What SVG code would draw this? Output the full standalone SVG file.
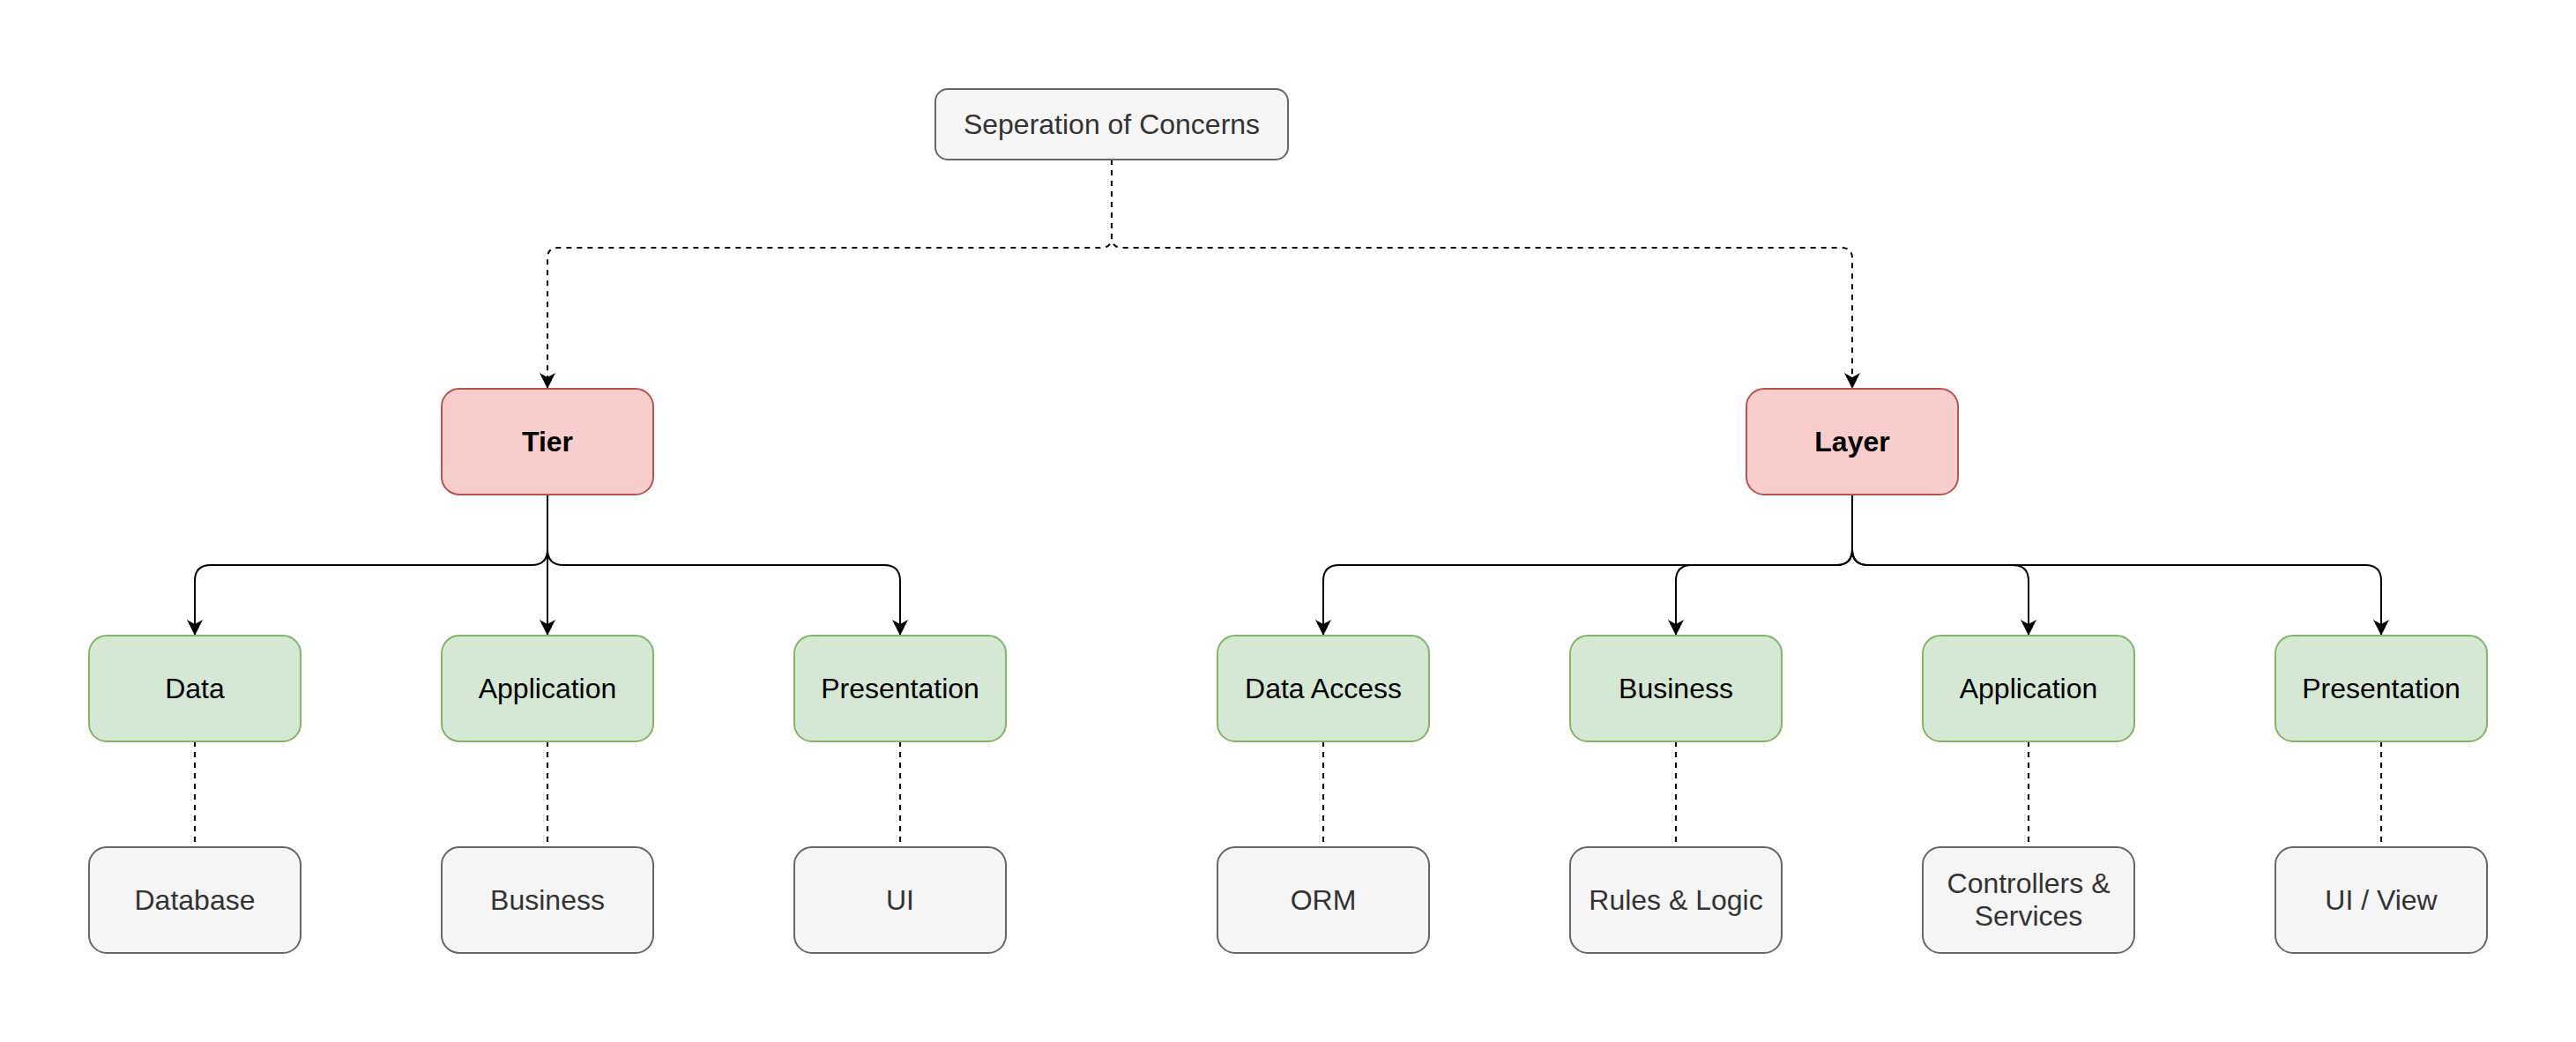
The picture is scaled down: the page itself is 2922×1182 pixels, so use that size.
<svg xmlns="http://www.w3.org/2000/svg" width="2922" height="1182" viewBox="0 0 2922 1182">
<style>
.box{stroke-width:2}
.gray{fill:#f5f5f5;stroke:#666666}
.green{fill:#d5e8d4;stroke:#82b366}
.red{fill:#f8cecc;stroke:#b85450}
text{font-family:"Liberation Sans",Arial,Helvetica,sans-serif;font-size:32px;text-anchor:middle}
.tg{fill:#333333}
.tb{fill:#000000}
.bold{font-weight:bold}
.edge{fill:none;stroke:#000000;stroke-width:2}
.dash{stroke-dasharray:6 6}
</style>
<defs>
<marker id="arrow" viewBox="0 0 18 18" refX="17" refY="9" markerWidth="18" markerHeight="18" markerUnits="userSpaceOnUse" orient="auto">
<path d="M0,0 L18,9 L0,18 L5,9 Z" fill="#000000"/>
</marker>
</defs>
<rect width="2922" height="1182" fill="#ffffff"/>
<g id="connectors">
<path class="edge dash" d="M1261,181 V269 Q1261,281 1249,281 H633 Q621,281 621,293 V440" marker-end="url(#arrow)"/>
<path class="edge dash" d="M1261,181 V269 Q1261,281 1273,281 H2089 Q2101,281 2101,293 V440" marker-end="url(#arrow)"/>
<path class="edge" d="M621,561 V623 Q621,641 603,641 H239 Q221,641 221,659 V720" marker-end="url(#arrow)"/>
<path class="edge" d="M621,561 V720" marker-end="url(#arrow)"/>
<path class="edge" d="M621,561 V623 Q621,641 639,641 H1003 Q1021,641 1021,659 V720" marker-end="url(#arrow)"/>
<path class="edge" d="M2101,561 V623 Q2101,641 2083,641 H1519 Q1501,641 1501,659 V720" marker-end="url(#arrow)"/>
<path class="edge" d="M2101,561 V623 Q2101,641 2083,641 H1919 Q1901,641 1901,659 V720" marker-end="url(#arrow)"/>
<path class="edge" d="M2101,561 V623 Q2101,641 2119,641 H2283 Q2301,641 2301,659 V720" marker-end="url(#arrow)"/>
<path class="edge" d="M2101,561 V623 Q2101,641 2119,641 H2683 Q2701,641 2701,659 V720" marker-end="url(#arrow)"/>
<path class="edge dash" d="M221,841 V961"/>
<path class="edge dash" d="M621,841 V961"/>
<path class="edge dash" d="M1021,841 V961"/>
<path class="edge dash" d="M1501,841 V961"/>
<path class="edge dash" d="M1901,841 V961"/>
<path class="edge dash" d="M2301,841 V961"/>
<path class="edge dash" d="M2701,841 V961"/>
</g>
<g id="root"><rect class="box gray" x="1061" y="101" width="400" height="80" rx="14"/><text class="tg" x="1261" y="152">Seperation of Concerns</text></g>
<g id="tier"><rect class="box red" x="501" y="441" width="240" height="120" rx="20"/><text class="tb bold" x="621" y="512">Tier</text></g>
<g id="layer"><rect class="box red" x="1981" y="441" width="240" height="120" rx="20"/><text class="tb bold" x="2101" y="512">Layer</text></g>
<g id="tier-data"><rect class="box green" x="101" y="721" width="240" height="120" rx="20"/><text class="tb" x="221" y="792">Data</text></g>
<g id="tier-application"><rect class="box green" x="501" y="721" width="240" height="120" rx="20"/><text class="tb" x="621" y="792">Application</text></g>
<g id="tier-presentation"><rect class="box green" x="901" y="721" width="240" height="120" rx="20"/><text class="tb" x="1021" y="792">Presentation</text></g>
<g id="layer-data-access"><rect class="box green" x="1381" y="721" width="240" height="120" rx="20"/><text class="tb" x="1501" y="792">Data Access</text></g>
<g id="layer-business"><rect class="box green" x="1781" y="721" width="240" height="120" rx="20"/><text class="tb" x="1901" y="792">Business</text></g>
<g id="layer-application"><rect class="box green" x="2181" y="721" width="240" height="120" rx="20"/><text class="tb" x="2301" y="792">Application</text></g>
<g id="layer-presentation"><rect class="box green" x="2581" y="721" width="240" height="120" rx="20"/><text class="tb" x="2701" y="792">Presentation</text></g>
<g id="database"><rect class="box gray" x="101" y="961" width="240" height="120" rx="20"/><text class="tg" x="221" y="1032">Database</text></g>
<g id="business"><rect class="box gray" x="501" y="961" width="240" height="120" rx="20"/><text class="tg" x="621" y="1032">Business</text></g>
<g id="ui"><rect class="box gray" x="901" y="961" width="240" height="120" rx="20"/><text class="tg" x="1021" y="1032">UI</text></g>
<g id="orm"><rect class="box gray" x="1381" y="961" width="240" height="120" rx="20"/><text class="tg" x="1501" y="1032">ORM</text></g>
<g id="rules-logic"><rect class="box gray" x="1781" y="961" width="240" height="120" rx="20"/><text class="tg" x="1901" y="1032">Rules &amp; Logic</text></g>
<g id="controllers-services"><rect class="box gray" x="2181" y="961" width="240" height="120" rx="20"/><text class="tg" x="2301" y="1013">Controllers &amp;</text><text class="tg" x="2301" y="1050">Services</text></g>
<g id="ui-view"><rect class="box gray" x="2581" y="961" width="240" height="120" rx="20"/><text class="tg" x="2701" y="1032">UI / View</text></g>
</svg>
